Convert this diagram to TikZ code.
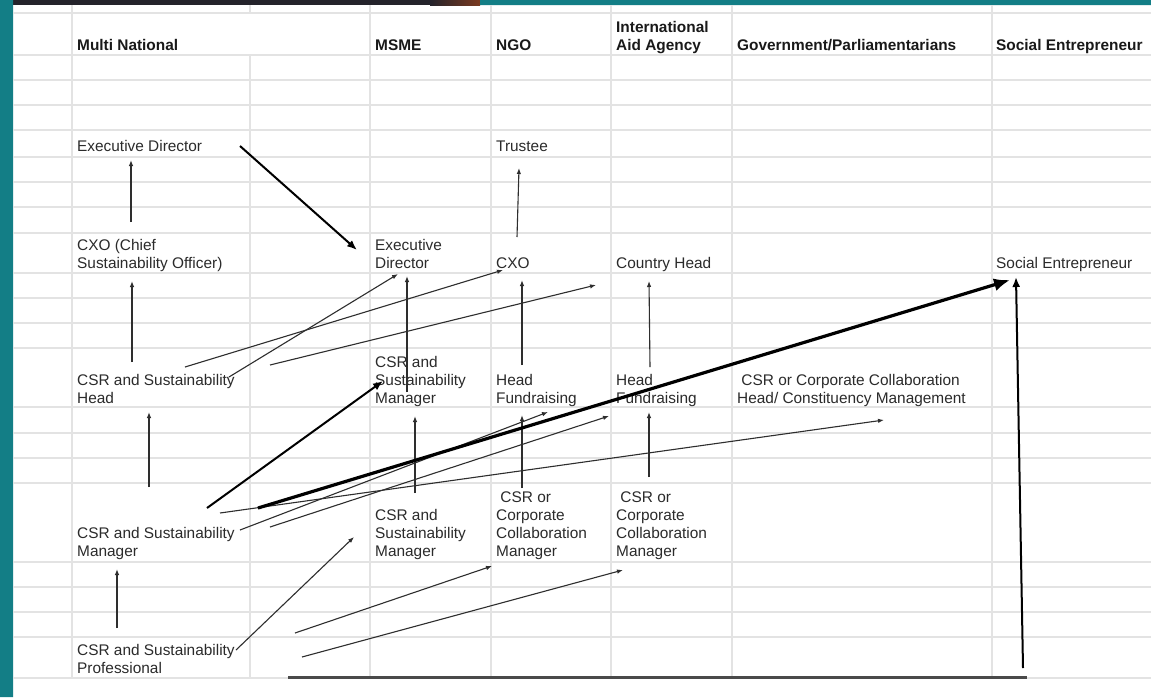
\documentclass[tikz,border=0pt]{standalone}
\usepackage{fontspec}
\setmainfont{Liberation Sans}
\usepackage{tkz-euclide}
\usetikzlibrary{arrows.meta}
\definecolor{sheetgrid}{HTML}{E3E3E3}
\definecolor{frameteal}{HTML}{137E86}
\definecolor{framedark}{HTML}{24232B}
\definecolor{framebrown}{HTML}{7B3A20}
\definecolor{celltext}{HTML}{2B2B2B}
\definecolor{linkgray}{HTML}{2E2E2E}
\definecolor{floorgray}{HTML}{4A4A4A}
\tikzset{
 cell/.style={anchor=base west,inner sep=0pt,align=left,text=celltext,font=\fontsize{15.4}{18}\selectfont},
 colhead/.style={cell,text=black!90,font=\bfseries\fontsize{15.4}{18}\selectfont},
 gridline/.style={sheetgrid,line width=1.2pt},
 link/.style={linkgray,line width=1.1pt,-{Latex[length=6pt,width=4.5pt]}},
 boldlink/.style={black,line width=2pt,-{Latex[length=10pt,width=8pt]}},
 mainlink/.style={black,line width=3.2pt,-{Latex[length=16pt,width=13pt]}},
 floorline/.style={floorgray,line width=3pt}
}
\begin{document}
\begin{tikzpicture}[x=1pt,y=-1pt]
\useasboundingbox(0,0)rectangle(1151,697);
\fill[white](0,0)rectangle(1151,697);
\fill[framedark](0,0)rectangle(430,5);
\shade[left color=framedark,right color=framebrown](430,0)rectangle(480,5);
\fill[frameteal](480,0)rectangle(1151,5)(0,0)rectangle(13,697);
\foreach \y in {13,55,80,105,130,157,182,207,233,273,298,323,348,407,433,458,483,562,587,612,637,678}
 \draw[gridline](13,\y)--(1151,\y);
\foreach \x in {72,370,491,611,732,992}
 \draw[gridline](\x,5)--(\x,678);
\draw[gridline](250,5)--(250,13)(250,55)--(250,678);

\node[colhead](mn)at(77,50){Multi National};
\node[colhead](msme)at(375,50){MSME};
\node[colhead](ngo)at(496,50){NGO};
\node[colhead](iaa)at(616,50){International\\Aid Agency};
\node[colhead](gov)at(737,50){Government/Parliamentarians};
\node[colhead](se)at(996,50){Social Entrepreneur};

\node[cell](mnED)at(77,151){Executive Director};
\node[cell](ngoTr)at(496,151){Trustee};
\node[cell](mnCXO)at(77,268){CXO (Chief\\Sustainability Officer)};
\node[cell](smED)at(375,268){Executive\\Director};
\node[cell](ngoCXO)at(496,268){CXO};
\node[cell](iaaCH)at(616,268){Country Head};
\node[cell](seSE)at(996,268){Social Entrepreneur};
\node[cell](mnHd)at(77,403){CSR and Sustainability\\Head};
\node[cell](smMgr)at(375,403){CSR and\\Sustainability\\Manager};
\node[cell](ngoHF)at(496,403){Head\\Fundraising};
\node[cell](iaaHF)at(616,403){Head\\Fundraising};
\node[cell](govCC)at(737,403){\ CSR or Corporate Collaboration\\Head/ Constituency Management};
\node[cell](mnMgr)at(77,556){CSR and Sustainability\\Manager};
\node[cell](smMgrB)at(375,556){CSR and\\Sustainability\\Manager};
\node[cell](ngoCCM)at(496,556){\ CSR or\\Corporate\\Collaboration\\Manager};
\node[cell](iaaCCM)at(616,556){\ CSR or\\Corporate\\Collaboration\\Manager};
\node[cell](mnPro)at(77,673){CSR and Sustainability\\Professional};

\tkzDefPoints{131/222/A1,131/160/A2,132/362/B1,132/281/B2,149/487/C1,149/412/C2,117/628/D1,117/569/D2}
\tkzDefPoints{517/237/E1,519/168/E2,407/392/F1,407/276/F2,522/365/G1,522/280/G2,650/367/H1,649/281/H2}
\tkzDefPoints{649/477/I1,649/412/I2,522/488/J1,522/415/J2,415/493/K1,415/416/K2}
\tkzDefPoints{185/367/L1,503/270/L2,229/377/M1,398/274/M2,270/365/N1,596/285/N2}
\tkzDefPoints{240/530/O1,548/412/O2,270/527/Q1,609/416/Q2,220/513/R1,884/420/R2}
\tkzDefPoints{236/650/S1,354/537/S2,295/633/T1,492/566/T2,302/657/U1,623/570/U2}
\tkzDefPoints{240/146/V1,357/250/V2,207/508/W1,383/381/W2,258/508/X1,1010/280/X2}
\tkzDefPoints{288/677/Y1,1027/677/Y2,1023/668/Z1,1016/277/Z2}
\draw[link](A1)--(A2);\draw[link](B1)--(B2);\draw[link](C1)--(C2);\draw[link](D1)--(D2);
\draw[link](E1)--(E2);\draw[link](F1)--(F2);\draw[link](G1)--(G2);\draw[link](H1)--(H2);
\draw[link](I1)--(I2);\draw[link](J1)--(J2);\draw[link](K1)--(K2);
\draw[link](L1)--(L2);\draw[link](M1)--(M2);\draw[link](N1)--(N2);
\draw[link](O1)--(O2);\draw[link](Q1)--(Q2);\draw[link](R1)--(R2);
\draw[link](S1)--(S2);\draw[link](T1)--(T2);\draw[link](U1)--(U2);
\draw[boldlink](V1)--(V2);\draw[boldlink](W1)--(W2);
\draw[mainlink](X1)--(X2);
\draw[floorline](Y1)--(Y2);
\draw[boldlink](Z1)--(Z2);
\end{tikzpicture}
\end{document}
